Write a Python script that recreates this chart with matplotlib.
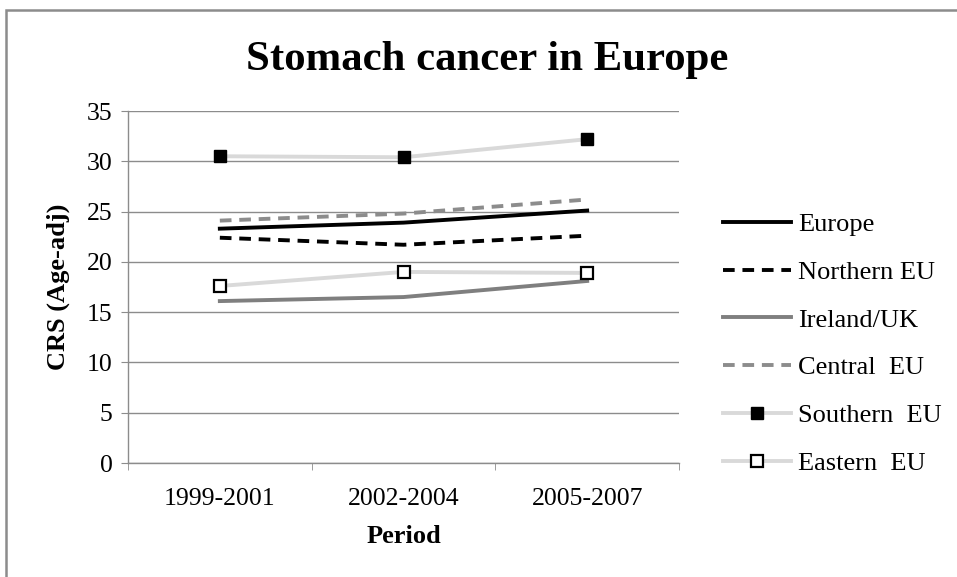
import matplotlib
matplotlib.use("Agg")
import matplotlib.pyplot as plt
from matplotlib.patches import Rectangle

plt.rcParams['font.family'] = ['Liberation Serif', 'DejaVu Serif']

periods = ["1999-2001", "2002-2004", "2005-2007"]
europe = [23.3, 23.9, 25.1]
northern_eu = [22.4, 21.7, 22.6]
ireland_uk = [16.1, 16.5, 18.1]
central_eu = [24.1, 24.8, 26.2]
southern_eu = [30.5, 30.4, 32.2]
eastern_eu = [17.6, 19.0, 18.9]
yticks = [0, 5, 10, 15, 20, 25, 30, 35]

W, H = 957, 577
fig = plt.figure(figsize=(W / 100, H / 100), dpi=100)

# outer frame (top and left edges visible)
fig.patches.append(Rectangle((6 / W, -0.05), 1.2, 1.05 - 9.5 / H,
                             transform=fig.transFigure, fill=False,
                             edgecolor='#8c8c8c', linewidth=1.8))

left, right, top, bottom = 128, 679, 111, 463
ax = fig.add_axes([left / W, 1 - bottom / H, (right - left) / W, (bottom - top) / H])

x = list(range(len(periods)))
lw = 2.8
ax.plot(x, europe, color='black', lw=lw, label='Europe', zorder=3)
ax.plot(x, northern_eu, color='black', lw=lw, dashes=(3.0, 2.0), label='Northern EU', zorder=3)
ax.plot(x, ireland_uk, color='#7f7f7f', lw=lw, label='Ireland/UK', zorder=3)
ax.plot(x, central_eu, color='#8c8c8c', lw=lw, dashes=(3.0, 2.0), label='Central  EU', zorder=3)
ax.plot(x, southern_eu, color='#d9d9d9', lw=lw, marker='s', markersize=9,
        markerfacecolor='black', markeredgecolor='black', label='Southern  EU', zorder=4)
ax.plot(x, eastern_eu, color='#d9d9d9', lw=lw, marker='s', markersize=8,
        markerfacecolor='white', markeredgecolor='black', markeredgewidth=1.6,
        label='Eastern  EU', zorder=4)

ax.set_xlim(-0.5, 2.5)
ax.set_ylim(0, 35)
ax.set_yticks(yticks)
ax.set_xticks(x)
ax.set_xticklabels(periods)
ax.set_xticks([-0.5, 0.5, 1.5, 2.5], minor=True)
ax.tick_params(axis='x', which='major', length=0, labelsize=18.5, pad=18)
ax.tick_params(axis='x', which='minor', length=5, color='#8c8c8c', direction='out')
ax.tick_params(axis='y', length=5, color='#8c8c8c', labelsize=18.5, pad=6)
ax.yaxis.grid(True, color='#8c8c8c', lw=1.0)
ax.set_axisbelow(True)
for s in ['top', 'right']:
    ax.spines[s].set_visible(False)
for s in ['left', 'bottom']:
    ax.spines[s].set_color('#8c8c8c')
    ax.spines[s].set_linewidth(1.0)

ax.set_ylabel('CRS (Age-adj)', fontsize=19, fontweight='bold', labelpad=12)
ax.set_xlabel('Period', fontsize=19, fontweight='bold', labelpad=11)

fig.text(487 / W, 1 - 60 / H, 'Stomach cancer in Europe', fontsize=30.8,
         fontweight='bold', ha='center', va='center')

leg = fig.legend(loc='upper left', bbox_to_anchor=(712 / W, 1 - 202 / H),
                 frameon=False, fontsize=19, handlelength=2.6, handletextpad=0.27,
                 labelspacing=0.92, borderaxespad=0)

fig.savefig('out.png', dpi=100)
